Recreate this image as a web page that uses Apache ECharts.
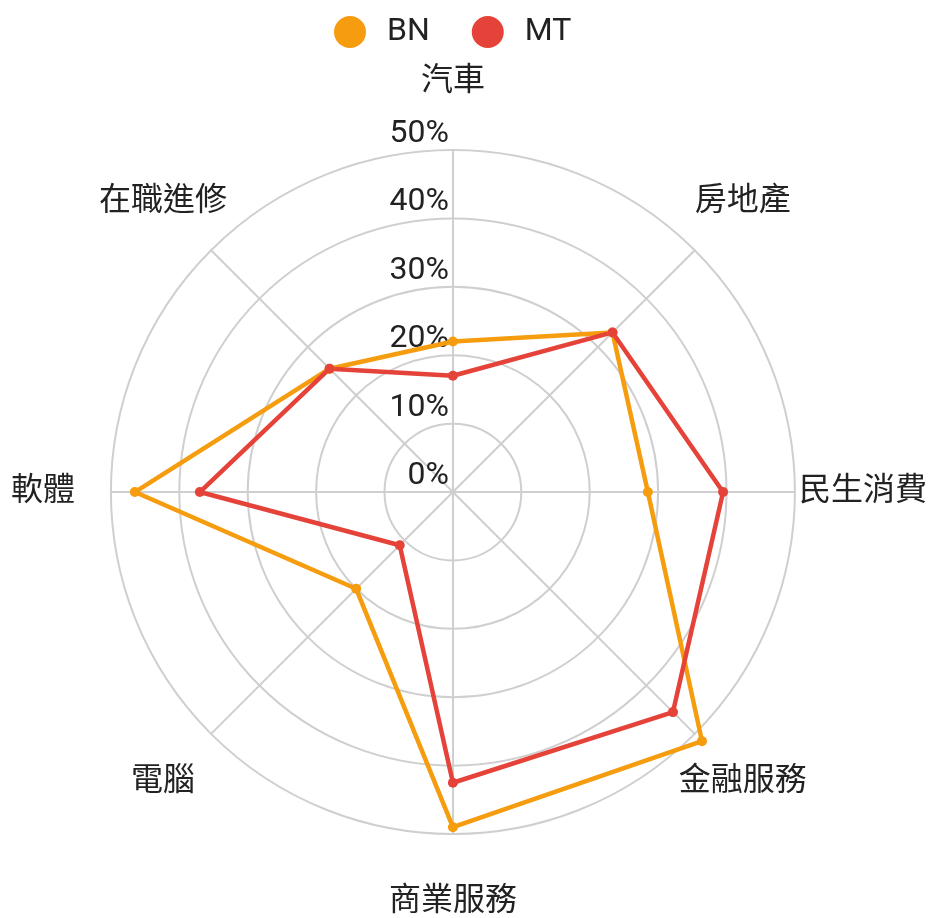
<!DOCTYPE html>
<html>
<head>
<meta charset="utf-8">
<script src="https://cdn.jsdelivr.net/npm/echarts@6/dist/echarts.min.js"></script>
<style>
  html, body { margin: 0; padding: 0; background: #fff; }
  #chart { width: 930px; height: 918px; }
</style>
</head>
<body>
<div id="chart"></div>
<script>
  // clockwise from the top
  var indicators = ['汽車', '房地產', '民生消費', '金融服務', '商業服務', '電腦', '軟體', '在職進修'];
  var seriesNames = ['BN', 'MT'];
  var bnValues = [22, 33, 28.5, 51.5, 49, 20, 46.5, 25.5];
  var mtValues = [17, 33, 39.5, 45.5, 42.5, 11, 37, 25.5];
  var maxValue = 50;

  var FONT = 'Roboto, "Noto Sans CJK TC", sans-serif';
  var TEXT = '#222';
  var ORANGE = '#F59C0F';
  var RED = '#E5433A';

  // echarts radar runs counter-clockwise, so keep the first axis and flip the rest
  function ccw(arr) {
    return [arr[0]].concat(arr.slice(1).reverse());
  }

  var chart = echarts.init(document.getElementById('chart'));

  var indicatorOpts = ccw(indicators).map(function (name, i) {
    var opt = { name: name, max: maxValue, min: 0 };
    if (i === 0) {
      // only the top axis shows the scale
      opt.axisLabel = {
        show: true,
        formatter: '{value}%',
        color: TEXT,
        fontSize: 32,
        fontFamily: FONT,
        align: 'right',
        verticalAlign: 'bottom',
        margin: 4
      };
    }
    return opt;
  });

  chart.setOption({
    animation: false,
    legend: {
      data: seriesNames,
      top: 11,
      left: 329,
      icon: 'circle',
      itemWidth: 32,
      itemHeight: 32,
      itemGap: 42,
      textStyle: {
        fontSize: 32,
        fontFamily: FONT,
        color: TEXT,
        padding: [0, 0, 0, 16]
      }
    },
    radar: {
      center: ['48.7%', '53.6%'],
      radius: 342,
      shape: 'circle',
      splitNumber: 5,
      startAngle: 90,
      indicator: indicatorOpts,
      nameGap: 68,
      axisName: {
        color: TEXT,
        fontSize: 32,
        fontFamily: FONT,
        align: 'center',
        verticalAlign: 'middle'
      },
      axisLabel: { show: false },
      axisLine: { lineStyle: { color: '#cfcfcf', width: 2 } },
      splitLine: { lineStyle: { color: '#cfcfcf', width: 2 } },
      splitArea: { show: false }
    },
    series: [{
      type: 'radar',
      symbol: 'circle',
      symbolSize: 10,
      data: [
        {
          name: 'BN',
          value: ccw(bnValues),
          itemStyle: { color: ORANGE },
          lineStyle: { color: ORANGE, width: 4.5 }
        },
        {
          name: 'MT',
          value: ccw(mtValues),
          itemStyle: { color: RED },
          lineStyle: { color: RED, width: 4.5 }
        }
      ]
    }]
  });
</script>
</body>
</html>
